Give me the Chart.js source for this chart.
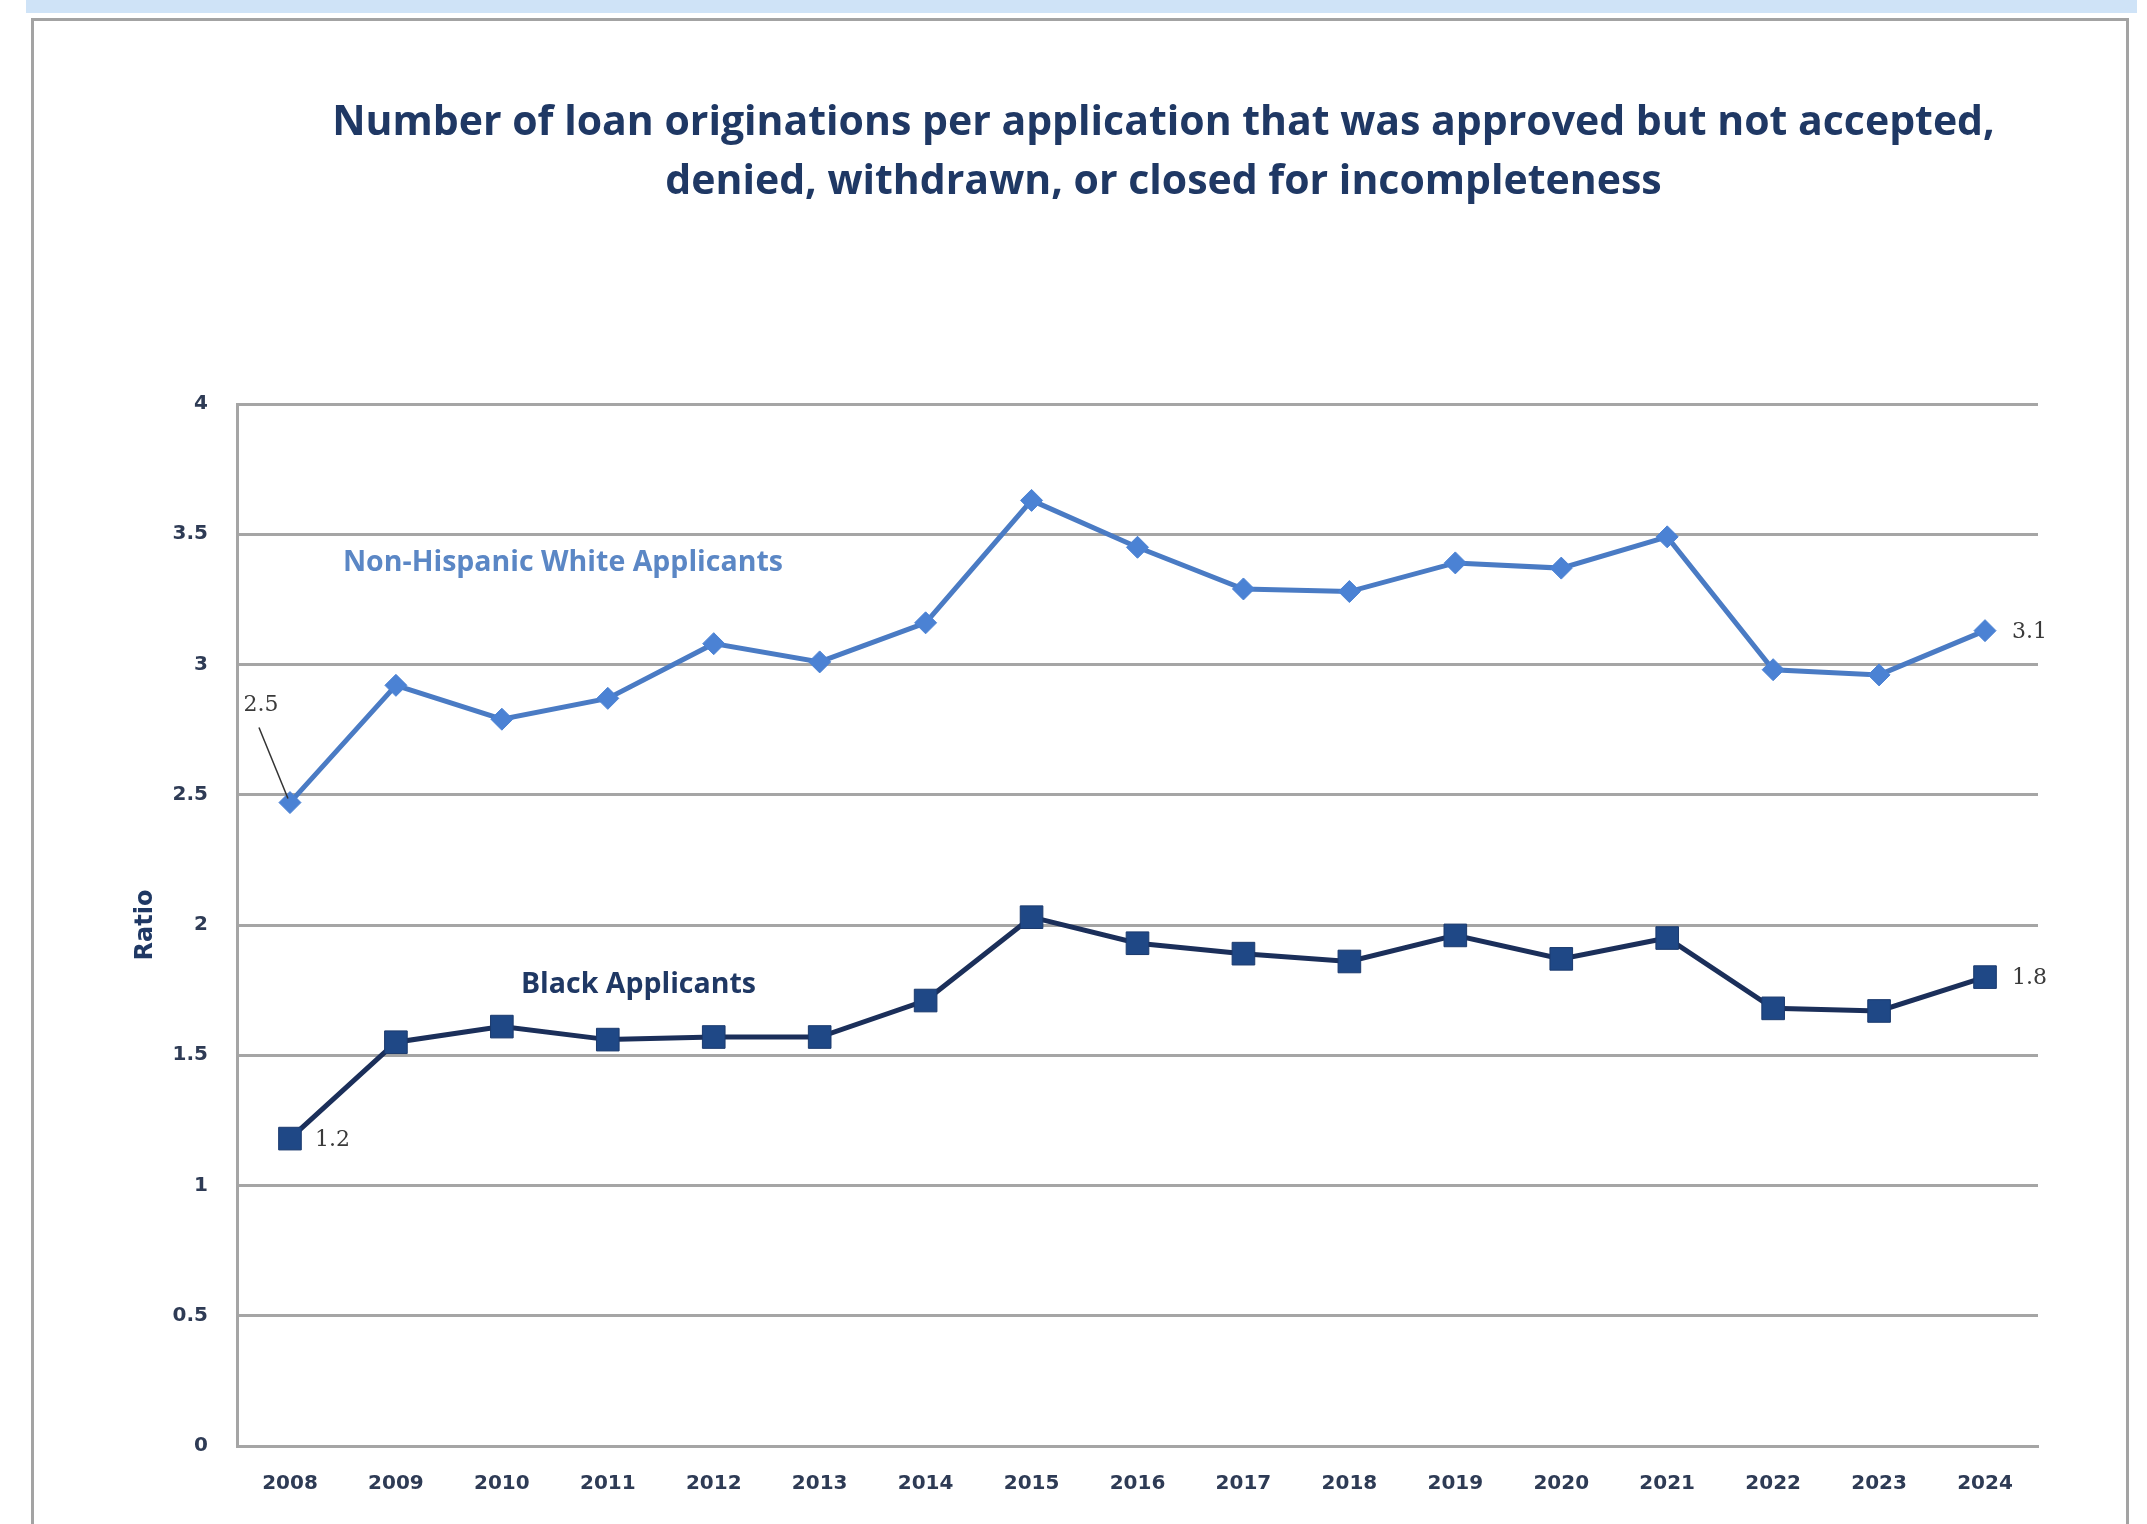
<!DOCTYPE html>
<html>
<head>
<meta charset="utf-8">
<title>Loan originations per application</title>
<script src="https://cdn.jsdelivr.net/npm/chart.js@4.4.1/dist/chart.umd.min.js"></script>
<style>
  html, body { margin: 0; padding: 0; background: #fff; overflow: hidden; }
  .band { position: absolute; left: 26px; top: 0; width: 2111px; height: 13px; background: #cfe3f7; }
  .frame { position: absolute; left: 31px; top: 18px; width: 2098px; height: 1540px;
           box-sizing: border-box; border: 3px solid #a3a3a3; background: #fff; }
  #ratio-chart { position: absolute; left: 0; top: 0; }
</style>
</head>
<body>
<div class="band"></div>
<div class="frame">
  <canvas id="ratio-chart" width="2092" height="1510"></canvas>
</div>
<script>
// anos e razões (originações por pedido não concluído)
const years = ['2008', '2009', '2010', '2011', '2012', '2013', '2014', '2015', '2016',
               '2017', '2018', '2019', '2020', '2021', '2022', '2023', '2024'];
const whiteRatio = [2.47, 2.92, 2.79, 2.87, 3.08, 3.01, 3.16, 3.63, 3.45,
                    3.29, 3.28, 3.39, 3.37, 3.49, 2.98, 2.96, 3.13];
const blackRatio = [1.18, 1.55, 1.61, 1.56, 1.57, 1.57, 1.71, 2.03, 1.93,
                    1.89, 1.86, 1.96, 1.87, 1.95, 1.68, 1.67, 1.80];
const seriesNames = ['Non-Hispanic White Applicants', 'Black Applicants'];
const titleLines = ['Number of loan originations per application that was approved but not accepted,',
                    'denied, withdrawn, or closed for incompleteness'];

const navy = '#1f3864';
const tickColor = '#2e3b55';

// título em duas linhas, centrado um pouco à direita da área do gráfico
const heading = {
  id: 'heading',
  afterDraw(chart, args, opts) {
    const { ctx, chartArea } = chart;
    const cx = (chartArea.left + chartArea.right) / 2 + opts.shift;
    ctx.save();
    ctx.font = opts.font;
    ctx.fillStyle = opts.color;
    ctx.textAlign = 'center';
    ctx.textBaseline = 'middle';
    opts.lines.forEach((line, i) => ctx.fillText(line, cx, opts.top + i * opts.gap));
    ctx.restore();
  }
};

// nomes das séries escritos dentro do gráfico
const seriesTags = {
  id: 'seriesTags',
  afterDatasetsDraw(chart, args, opts) {
    const { ctx, scales } = chart;
    ctx.save();
    ctx.font = opts.font;
    ctx.textAlign = 'left';
    ctx.textBaseline = 'middle';
    opts.items.forEach(item => {
      ctx.fillStyle = item.color;
      ctx.fillText(chart.data.datasets[item.dataset].label,
                   scales.x.getPixelForValue(item.x), scales.y.getPixelForValue(item.y));
    });
    ctx.restore();
  }
};

// rótulos de valor no primeiro e no último ponto
const endLabels = {
  id: 'endLabels',
  afterDatasetsDraw(chart, args, opts) {
    const { ctx } = chart;
    ctx.save();
    ctx.font = opts.font;
    ctx.fillStyle = opts.color;
    ctx.textBaseline = 'middle';
    opts.items.forEach(item => {
      const pt = chart.getDatasetMeta(item.dataset).data[item.index];
      const value = chart.data.datasets[item.dataset].data[item.index];
      ctx.textAlign = item.align;
      ctx.fillText(value.toFixed(1), pt.x + item.dx, pt.y + item.dy);
      if (item.leader) {
        ctx.strokeStyle = opts.leaderColor;
        ctx.lineWidth = 1.5;
        ctx.beginPath();
        ctx.moveTo(pt.x + item.leader[0], pt.y + item.leader[1]);
        ctx.lineTo(pt.x - 2, pt.y - 4);
        ctx.stroke();
      }
    });
    ctx.restore();
  }
};

const ctx = document.getElementById('ratio-chart');
const chart = new Chart(ctx, {
  type: 'line',
  data: {
    labels: years,
    datasets: [{
      label: seriesNames[0],
      data: whiteRatio,
      borderColor: '#4a7bc4',
      borderWidth: 5,
      pointStyle: 'rectRot',
      pointRadius: 11,
      pointBackgroundColor: '#4b82d4',
      pointBorderColor: '#4b82d4',
      pointBorderWidth: 1,
      tension: 0
    }, {
      label: seriesNames[1],
      data: blackRatio,
      borderColor: '#1b2f5a',
      borderWidth: 5,
      pointStyle: 'rect',
      pointRadius: 16,
      pointBackgroundColor: '#1f4886',
      pointBorderColor: '#1b3a6e',
      pointBorderWidth: 1,
      tension: 0
    }]
  },
  options: {
    responsive: false,
    devicePixelRatio: 1,
    animation: false,
    layout: { padding: { top: 383, left: 97, right: 88, bottom: 9 } },
    scales: {
      x: {
        offset: true,
        grid: { display: false, drawTicks: false },
        border: { display: true, color: '#a5a5a5', width: 3 },
        ticks: {
          padding: 26,
          maxRotation: 0,
          color: tickColor,
          font: { family: 'DejaVu Sans', weight: 'bold', size: 20 }
        }
      },
      y: {
        min: 0,
        max: 4,
        afterFit(scale) { scale.width = 106; },
        grid: { color: '#a5a5a5', lineWidth: 3, drawTicks: false },
        border: { display: true, color: '#a5a5a5', width: 3 },
        ticks: {
          stepSize: 0.5,
          padding: 29,
          color: tickColor,
          font: { family: 'DejaVu Sans', weight: 'bold', size: 20 },
          callback: (value) => String(value)
        },
        title: {
          display: true,
          text: 'Ratio',
          color: navy,
          padding: { top: 0, bottom: 0 },
          font: { family: 'DejaVu Sans', weight: 'bold', size: 24 }
        }
      }
    },
    plugins: {
      legend: { display: false },
      tooltip: { enabled: false },
      heading: {
        lines: titleLines,
        font: 'bold 41px "Open Sans"',
        color: navy,
        top: 102,
        gap: 59,
        shift: 26
      },
      seriesTags: {
        font: 'bold 28.5px "Open Sans"',
        items: [
          { dataset: 0, x: 0.5, y: 3.39, color: '#5b87c5' },
          { dataset: 1, x: 2.18, y: 1.77, color: navy }
        ]
      },
      endLabels: {
        font: '22px "DejaVu Serif"',
        color: '#3a3a3a',
        leaderColor: '#333',
        items: [
          { dataset: 0, index: 0, align: 'center', dx: -29, dy: -97, leader: [-31, -75] },
          { dataset: 1, index: 0, align: 'left', dx: 25, dy: 2 },
          { dataset: 0, index: 16, align: 'left', dx: 27, dy: 2 },
          { dataset: 1, index: 16, align: 'left', dx: 27, dy: 1 }
        ]
      }
    }
  },
  plugins: [heading, seriesTags, endLabels]
});
</script>
</body>
</html>
